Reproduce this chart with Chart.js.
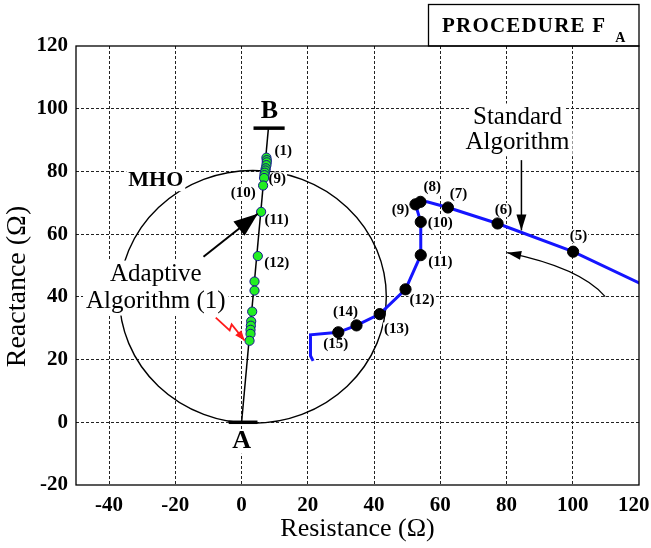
<!DOCTYPE html>
<html>
<head>
<meta charset="utf-8">
<script src="https://cdn.jsdelivr.net/npm/chart.js@4.4.0/dist/chart.umd.min.js"></script>
<style>
  html, body { margin: 0; padding: 0; background: #fff; }
  #wrap { width: 651px; height: 548px; position: relative; }
</style>
</head>
<body>
<div id="wrap"><canvas id="chart"></canvas></div>
<script>
// axis ticks
const xTicks = [-50, -40, -20, 0, 20, 40, 60, 80, 100, 120];
const yTicks = [-20, 0, 20, 40, 60, 80, 100, 120];

// relay characteristic: line A-B and the MHO circle
const lineAB_R = [0, 8.1];
const lineAB_X = [0, 93.8];
const barA_R = [-3.9, 4.8];
const barA_X = [0, 0];
const barB_R = [3.6, 13];
const barB_X = [93.8, 93.8];
const mhoCenter = [3.4, 40];
const mhoRadius = 40.3;

// adaptive algorithm (1) estimates
const adaptR = [7.5, 7.6, 7.6, 7.5, 7.3, 7.2, 7.0, 6.9, 6.8, 6.5, 5.9, 4.9, 3.9, 3.9, 3.2, 2.9, 2.8, 2.7, 2.7, 2.4];
const adaptX = [84.4, 83.6, 82.9, 82.0, 81.0, 80.3, 79.6, 78.8, 77.9, 75.5, 67.1, 53.0, 44.9, 42.0, 35.3, 32.2, 30.8, 29.5, 28.2, 26.0];

// standard algorithm trajectory and marked samples
const stdPathR = [121.5, 100.1, 77.3, 62.3, 56.0, 54.0, 52.5, 54.1, 54.1, 49.5, 41.7, 34.7, 29.2, 20.8, 20.8, 21.6];
const stdPathX = [43.7, 54.4, 63.4, 68.5, 70.3, 70.3, 69.5, 63.9, 53.3, 42.4, 34.5, 30.9, 28.7, 27.9, 21.2, 19.6];
const stdPtR = [100.1, 77.3, 62.3, 54.0, 52.5, 54.1, 54.1, 49.5, 41.7, 34.7, 29.2];
const stdPtX = [54.4, 63.4, 68.5, 70.3, 69.5, 63.9, 53.3, 42.4, 34.5, 30.9, 28.7];
const stdPtLabel = ['(5)', '(6)', '(7)', '(8)', '(9)', '(10)', '(11)', '(12)', '(13)', '(14)', '(15)'];
const adaptPtLabel = ['(1)', '(9)', '(10)', '(11)', '(12)'];

// where the annotations sit (data units)
const stdLabelPos = [[101.7, 59.3], [79.1, 67.7], [65.5, 72.8], [57.6, 75.0], [48.0, 67.7], [60.0, 63.6], [60.0, 51.2], [54.5, 39.1], [46.8, 29.6], [31.4, 35.0], [28.4, 24.9]];
const adaptLabelPos = [[12.6, 86.4], [10.8, 77.5], [0.5, 73.0], [10.6, 64.5], [10.6, 50.9]];

const serif = '"Liberation Serif", "Times New Roman", Times, serif';

const toXY = (rs, xs) => rs.map((r, i) => ({ x: r, y: xs[i] }));

function boxedText(ctx, txt, px, py, font, size, pad) {
  ctx.font = font;
  const w = ctx.measureText(txt).width;
  ctx.fillStyle = '#fff';
  ctx.fillRect(px - w / 2 - pad, py - size / 2 - pad, w + 2 * pad, size + 2 * pad);
  ctx.fillStyle = '#000';
  ctx.textAlign = 'center';
  ctx.textBaseline = 'middle';
  ctx.fillText(txt, px, py);
}

function arrowHead(ctx, fx, fy, tx, ty, len, half, color) {
  const a = Math.atan2(ty - fy, tx - fx);
  ctx.fillStyle = color;
  ctx.beginPath();
  ctx.moveTo(tx, ty);
  ctx.lineTo(tx - len * Math.cos(a) + half * Math.sin(a), ty - len * Math.sin(a) - half * Math.cos(a));
  ctx.lineTo(tx - len * Math.cos(a) - half * Math.sin(a), ty - len * Math.sin(a) + half * Math.cos(a));
  ctx.closePath();
  ctx.fill();
}

const drawing = {
  id: 'drawing',
  beforeDatasetsDraw(chart) {
    const { ctx, chartArea: a, scales: { x, y } } = chart;
    const P = (r, v) => [x.getPixelForValue(r), y.getPixelForValue(v)];
    ctx.save();
    ctx.beginPath();
    ctx.rect(a.left, a.top, a.width, a.height);
    ctx.clip();

    // MHO circle
    const [cx, cy] = P(mhoCenter[0], mhoCenter[1]);
    const rx = x.getPixelForValue(mhoCenter[0] + mhoRadius) - cx;
    const ry = cy - y.getPixelForValue(mhoCenter[1] + mhoRadius);
    ctx.beginPath();
    ctx.ellipse(cx, cy, rx, ry, 0, 0, Math.PI * 2);
    ctx.lineWidth = 1.4;
    ctx.strokeStyle = '#000';
    ctx.stroke();

    // text annotations
    let p;
    p = P(-25.9, 77.2); boxedText(ctx, 'MHO', p[0], p[1], 'bold 22px ' + serif, 18, 2);
    p = P(-25.9, 47.1); boxedText(ctx, 'Adaptive', p[0], p[1], '25px ' + serif, 22, 3);
    p = P(-25.9, 38.5); boxedText(ctx, 'Algorithm (1)', p[0], p[1], '25px ' + serif, 22, 3);
    p = P(83.3, 97.2); boxedText(ctx, 'Standard', p[0], p[1], '25px ' + serif, 22, 3);
    p = P(83.3, 89.3); boxedText(ctx, 'Algorithm', p[0], p[1], '25px ' + serif, 22, 3);
    p = P(8.4, 99.1); boxedText(ctx, 'B', p[0], p[1], 'bold 26px ' + serif, 20, 2);
    p = P(0, -6.2); boxedText(ctx, 'A', p[0], p[1], 'bold 26px ' + serif, 20, 2);

    stdPtLabel.forEach((t, i) => {
      const q = P(stdLabelPos[i][0], stdLabelPos[i][1]);
      boxedText(ctx, t, q[0], q[1], 'bold 15px ' + serif, 12, 1);
    });
    adaptPtLabel.forEach((t, i) => {
      const q = P(adaptLabelPos[i][0], adaptLabelPos[i][1]);
      boxedText(ctx, t, q[0], q[1], 'bold 15px ' + serif, 12, 1);
    });
    ctx.restore();
  },
  afterDatasetsDraw(chart) {
    const { ctx, chartArea: a, scales: { x, y } } = chart;
    const P = (r, v) => [x.getPixelForValue(r), y.getPixelForValue(v)];
    ctx.save();
    ctx.lineCap = 'butt';

    // arrow to adaptive estimate (11)
    let t = P(-11.5, 52.8), h = P(4.9, 66.5);
    ctx.strokeStyle = '#000';
    ctx.lineWidth = 2;
    ctx.beginPath(); ctx.moveTo(t[0], t[1]); ctx.lineTo(h[0], h[1]); ctx.stroke();
    arrowHead(ctx, t[0], t[1], h[0], h[1], 24, 9, '#000');

    // standard algorithm arrow
    t = P(84.5, 83.6); h = P(84.5, 61.2);
    ctx.lineWidth = 1.5;
    ctx.beginPath(); ctx.moveTo(t[0], t[1]); ctx.lineTo(h[0], h[1]); ctx.stroke();
    arrowHead(ctx, t[0], t[1], h[0], h[1], 16, 5, '#000');

    // curved direction arrow
    const s = P(109.8, 40.1), c = P(102.3, 49.3), e = P(80.2, 54.1);
    ctx.lineWidth = 1.2;
    ctx.beginPath(); ctx.moveTo(s[0], s[1]); ctx.quadraticCurveTo(c[0], c[1], e[0], e[1]); ctx.stroke();
    arrowHead(ctx, c[0], c[1], e[0], e[1], 14, 4.5, '#000');

    // red fault arrow
    const bolt = [P(-7.8, 33.4), P(-3.6, 29.3), P(-3.0, 31.2), P(0.9, 26.1)];
    ctx.strokeStyle = '#ff1a1a';
    ctx.lineWidth = 1.8;
    ctx.beginPath();
    bolt.forEach((b, i) => (i ? ctx.lineTo(b[0], b[1]) : ctx.moveTo(b[0], b[1])));
    ctx.stroke();
    arrowHead(ctx, bolt[2][0], bolt[2][1], bolt[3][0], bolt[3][1], 10, 4, '#ff1a1a');

    // plot frame
    ctx.strokeStyle = '#000';
    ctx.lineWidth = 1.3;
    ctx.strokeRect(a.left, a.top, a.right - a.left, a.bottom - a.top);

    // procedure box
    ctx.lineWidth = 1.3;
    ctx.strokeRect(428.5, 4.5, a.right - 428.5, a.top - 4.5);
    ctx.fillStyle = '#000';
    ctx.textAlign = 'left';
    ctx.textBaseline = 'alphabetic';
    ctx.font = 'bold 21px ' + serif;
    ctx.letterSpacing = '1.2px';
    ctx.fillText('PROCEDURE F', 442, 32);
    const w = ctx.measureText('PROCEDURE F').width;
    ctx.letterSpacing = '0px';
    ctx.font = 'bold 14px ' + serif;
    ctx.fillText('A', 442 + w + 9, 42);
    ctx.restore();
  }
};

new Chart(document.getElementById('chart'), {
  type: 'scatter',
  data: {
    datasets: [
      {
        data: toXY(adaptR, adaptX),
        pointRadius: 4.6,
        pointBackgroundColor: '#22ee22',
        pointBorderColor: '#14148c',
        pointBorderWidth: 1,
        showLine: false
      },
      {
        data: toXY(stdPtR, stdPtX),
        pointRadius: 5.6,
        pointBackgroundColor: '#000',
        pointBorderColor: '#000',
        showLine: false
      },
      {
        data: toXY(stdPathR, stdPathX),
        showLine: true,
        borderColor: '#1515ff',
        borderWidth: 3,
        pointRadius: 0
      },
      {
        data: toXY(lineAB_R, lineAB_X),
        showLine: true,
        borderColor: '#000',
        borderWidth: 1.5,
        pointRadius: 0
      },
      {
        data: toXY(barA_R, barA_X),
        showLine: true,
        borderColor: '#000',
        borderWidth: 3.5,
        pointRadius: 0
      },
      {
        data: toXY(barB_R, barB_X),
        showLine: true,
        borderColor: '#000',
        borderWidth: 3.5,
        pointRadius: 0
      }
    ]
  },
  options: {
    responsive: true,
    maintainAspectRatio: false,
    animation: false,
    events: [],
    layout: { padding: { top: 46, right: 12, left: 0, bottom: 0 } },
    plugins: {
      legend: { display: false },
      tooltip: { enabled: false }
    },
    scales: {
      x: {
        type: 'linear',
        min: -50,
        max: 120,
        afterBuildTicks: (s) => { s.ticks = xTicks.map((v) => ({ value: v })); },
        afterFit: (s) => { s.height = 63; s.paddingLeft = 0; s.paddingRight = 0; },
        border: { display: false, dash: [3, 2] },
        grid: {
          drawTicks: false,
          lineWidth: 1,
          color: (c) => (c.tick && (c.tick.value === -50 || c.tick.value === 120) ? 'rgba(0,0,0,0)' : '#222')
        },
        ticks: {
          padding: 8,
          color: '#000',
          font: { family: serif, size: 21, weight: 'bold' },
          callback: (v) => (v === -50 ? '' : v === 120 ? '120\u2007' : String(v))
        },
        title: {
          display: true,
          text: 'Resistance (Ω)',
          color: '#000',
          font: { family: serif, size: 26 },
          padding: { top: 0, bottom: 3 }
        }
      },
      y: {
        type: 'linear',
        min: -20,
        max: 120,
        afterBuildTicks: (s) => { s.ticks = yTicks.map((v) => ({ value: v })); },
        afterFit: (s) => { s.width = 76; },
        border: { display: false, dash: [3, 2] },
        grid: {
          drawTicks: false,
          lineWidth: 1,
          color: (c) => (c.tick && (c.tick.value === -20 || c.tick.value === 120) ? 'rgba(0,0,0,0)' : '#222')
        },
        ticks: {
          padding: 8,
          color: '#000',
          font: { family: serif, size: 21, weight: 'bold' }
        },
        title: {
          display: true,
          text: 'Reactance (Ω)\u2003\u2002',
          color: '#000',
          font: { family: serif, size: 28 },
          padding: { top: 1, bottom: 0 }
        }
      }
    }
  },
  plugins: [drawing]
});
</script>
</body>
</html>
